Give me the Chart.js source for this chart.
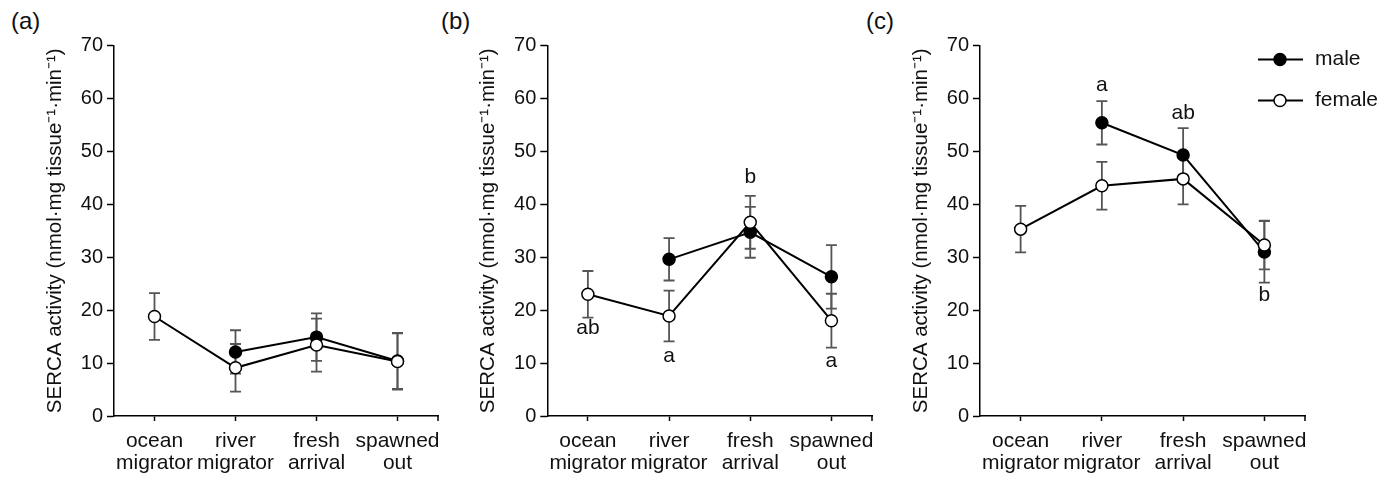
<!DOCTYPE html>
<html>
<head>
<meta charset="utf-8">
<script src="https://cdn.jsdelivr.net/npm/chart.js@4.4.1/dist/chart.umd.min.js"></script>
<style>
  body { margin: 0; background: #fff; width: 1379px; height: 478px; position: relative; overflow: hidden;
         font-family: 'Liberation Sans', Arial, sans-serif; }
  canvas { position: absolute; top: 0; }
  .tag { position: absolute; top: 7px; font-size: 24px; color: #111; line-height: 28px; }
</style>
</head>
<body>
<div class="tag" style="left:11px">(a)</div>
<div class="tag" style="left:441px">(b)</div>
<div class="tag" style="left:866px">(c)</div>
<canvas id="chartA" width="470" height="478" style="left:0px"></canvas>
<canvas id="chartB" width="470" height="478" style="left:440px"></canvas>
<canvas id="chartC" width="499" height="478" style="left:880px"></canvas>
<script>
const stages = [['ocean', 'migrator'], ['river', 'migrator'], ['fresh', 'arrival'], ['spawned', 'out']];
const yTicks = [0, 10, 20, 30, 40, 50, 60, 70];
const yTitle = 'SERCA activity (nmol\u00b7mg tissue\u207b\u00b9\u00b7min\u207b\u00b9)';

// panel (a)
const maleA = [null, 12.1, 14.9, 10.4];
const maleErrA = [null, 4.1, 4.5, 5.3];
const femaleA = [18.8, 9.1, 13.4, 10.3];
const femaleErrA = [4.4, 4.5, 5.0, 5.3];
const lettersA = [];

// panel (b)
const maleB = [null, 29.6, 34.7, 26.3];
const maleErrB = [null, 4.0, 4.8, 6.0];
const femaleB = [23.0, 18.9, 36.6, 18.0];
const femaleErrB = [4.4, 4.8, 5.0, 5.1];
const lettersB = [[0, 16.6, 'ab'], [1, 11.3, 'a'], [2, 45.2, 'b'], [3, 10.3, 'a']];

// panel (c)
const maleC = [null, 55.4, 49.3, 31.0];
const maleErrC = [null, 4.1, 5.1, 5.8];
const femaleC = [35.3, 43.5, 44.8, 32.3];
const femaleErrC = [4.4, 4.5, 4.8, 4.6];
const lettersC = [[1, 62.5, 'a'], [2, 57.3, 'ab'], [3, 22.8, 'b']];

const FONT = "'Liberation Sans', Arial, sans-serif";
const INK = '#111';

const errorBars = {
    id: 'errorBars',
    beforeDatasetsDraw(chart) {
        const ctx = chart.ctx;
        const x = chart.scales.x, y = chart.scales.y;
        ctx.save();
        ctx.strokeStyle = '#555';
        ctx.lineWidth = 1.8;
        chart.data.datasets.forEach(ds => {
            ds.data.forEach((v, i) => {
                if (v === null) return;
                const e = ds.errors[i];
                const px = x.getPixelForValue(i);
                const top = y.getPixelForValue(v + e);
                const bot = y.getPixelForValue(v - e);
                ctx.beginPath();
                ctx.moveTo(px, top); ctx.lineTo(px, bot);
                ctx.moveTo(px - 5.5, top); ctx.lineTo(px + 5.5, top);
                ctx.moveTo(px - 5.5, bot); ctx.lineTo(px + 5.5, bot);
                ctx.stroke();
            });
        });
        ctx.restore();
    },
    afterDraw(chart) {
        // closing tick at the right end of the x axis
        const ctx = chart.ctx, a = chart.chartArea;
        ctx.save();
        ctx.strokeStyle = '#000';
        ctx.lineWidth = 1.5;
        ctx.beginPath();
        ctx.moveTo(a.right, a.bottom); ctx.lineTo(a.right, a.bottom + 5);
        ctx.stroke();
        // significance letters
        const letters = chart.options.plugins.errorBars.letters;
        ctx.fillStyle = INK;
        ctx.font = '21px ' + FONT;
        ctx.textAlign = 'center';
        ctx.textBaseline = 'middle';
        letters.forEach(([i, v, t]) => {
            ctx.fillText(t, chart.scales.x.getPixelForValue(i), chart.scales.y.getPixelForValue(v));
        });
        ctx.restore();
    }
};

const sexLegend = {
    id: 'sexLegend',
    afterDraw(chart) {
        const ctx = chart.ctx, a = chart.chartArea;
        const rows = [['male', '#000', a.top + 14], ['female', '#fff', a.top + 55]];
        ctx.save();
        rows.forEach(([label, fill, yy]) => {
            ctx.strokeStyle = '#000';
            ctx.lineWidth = 2;
            ctx.beginPath();
            ctx.moveTo(a.right - 47, yy); ctx.lineTo(a.right - 2, yy);
            ctx.stroke();
            ctx.beginPath();
            ctx.arc(a.right - 25, yy, 6, 0, Math.PI * 2);
            ctx.fillStyle = fill;
            ctx.fill();
            ctx.lineWidth = 1.5;
            ctx.stroke();
            ctx.fillStyle = INK;
            ctx.font = '21px ' + FONT;
            ctx.textAlign = 'left';
            ctx.textBaseline = 'middle';
            ctx.fillText(label, a.right + 10, yy);
        });
        ctx.restore();
    }
};

function makePanel(id, male, maleErr, female, femaleErr, letters, axisX, rightX, extra) {
    const padL = axisX - 71;
    const canvas = document.getElementById(id);
    return new Chart(canvas.getContext('2d'), {
        type: 'line',
        data: {
            labels: stages,
            datasets: [{
                label: 'male',
                data: male,
                errors: maleErr,
                order: 1,
                borderColor: '#000',
                borderWidth: 2,
                backgroundColor: '#000',
                pointBackgroundColor: '#000',
                pointBorderColor: '#000',
                pointBorderWidth: 1.5,
                pointRadius: 6,
                tension: 0
            }, {
                label: 'female',
                data: female,
                errors: femaleErr,
                order: 0,
                borderColor: '#000',
                borderWidth: 2,
                backgroundColor: '#fff',
                pointBackgroundColor: '#fff',
                pointBorderColor: '#000',
                pointBorderWidth: 1.5,
                pointRadius: 6,
                tension: 0
            }]
        },
        options: {
            responsive: false,
            animation: false,
            events: [],
            layout: { padding: { left: padL, top: 45.5, right: canvas.width - rightX, bottom: 0 } },
            plugins: {
                legend: { display: false },
                tooltip: { enabled: false },
                errorBars: { letters: letters }
            },
            scales: {
                x: {
                    offset: true,
                    grid: { drawOnChartArea: false, drawTicks: true, tickLength: 5, tickColor: '#000', tickWidth: 1.5, offset: false },
                    border: { color: '#000', width: 1.5 },
                    ticks: { color: INK, padding: 9, font: { family: FONT, size: 21, lineHeight: 1.05 }, maxRotation: 0, autoSkip: false },
                    afterFit(s) { s.height = 62; s.paddingLeft = 0; s.paddingRight = 0; }
                },
                y: {
                    min: 0,
                    max: 70,
                    afterBuildTicks(s) { s.ticks = yTicks.map(v => ({ value: v })); },
                    grid: { drawOnChartArea: false, drawTicks: true, tickLength: 7, tickColor: '#000', tickWidth: 1.5 },
                    border: { color: '#000', width: 1.5 },
                    ticks: { color: INK, padding: 4, font: { family: FONT, size: 20 } },
                    title: { display: true, text: yTitle, color: INK, padding: { top: 0, bottom: 0 }, font: { family: FONT, size: 20.5 } },
                    afterFit(s) { s.width = 71; s.paddingTop = 0; s.paddingBottom = 0; }
                }
            }
        },
        plugins: extra ? [errorBars, sexLegend] : [errorBars]
    });
}

makePanel('chartA', maleA, maleErrA, femaleA, femaleErrA, lettersA, 114, 438, false);
makePanel('chartB', maleB, maleErrB, femaleB, femaleErrB, lettersB, 107.3, 432, false);
makePanel('chartC', maleC, maleErrC, femaleC, femaleErrC, lettersC, 100, 425, true);
</script>
</body>
</html>
